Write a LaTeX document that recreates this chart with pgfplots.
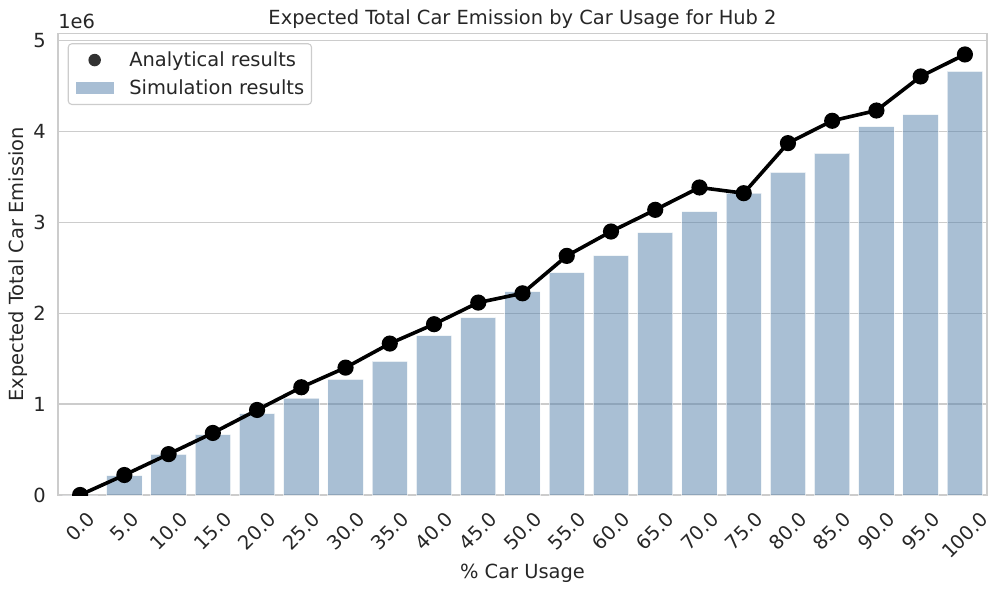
\documentclass[border=0pt]{standalone}
\usepackage{fontspec}
\setmainfont{DejaVu Sans}
\usepackage{graphicx}
\usepackage{pgfplots}
\pgfplotsset{compat=1.18}

\definecolor{barc}{HTML}{537FA9}
\definecolor{gridc}{HTML}{CCCCCC}
\definecolor{txt}{HTML}{262626}

\newcommand{\rl}[1]{\rotatebox{45}{#1}}
\newcommand{\fs}{\fontsize{14}{16.8}\selectfont}

% values in units of 1e6
\pgfplotstableread{
x sim ana
0 0.000 0.000
1 0.213 0.220
2 0.448 0.450
3 0.664 0.683
4 0.896 0.936
5 1.065 1.186
6 1.274 1.402
7 1.472 1.667
8 1.755 1.880
9 1.953 2.118
10 2.239 2.220
11 2.448 2.632
12 2.636 2.900
13 2.889 3.139
14 3.120 3.385
15 3.322 3.322
16 3.550 3.873
17 3.759 4.119
18 4.056 4.232
19 4.188 4.607
20 4.662 4.849
}\data

\begin{document}
\begin{tikzpicture}
\begin{axis}[
    at={(0pt,0pt)}, anchor=south west,
    scale only axis,
    width=668.9pt, height=332.3pt,
    xmin=-0.5, xmax=20.5,
    ymin=0, ymax=5.08,
    xtick={0,...,20},
    xticklabels={\rl{0.0},\rl{5.0},\rl{10.0},\rl{15.0},\rl{20.0},\rl{25.0},\rl{30.0},\rl{35.0},\rl{40.0},\rl{45.0},\rl{50.0},\rl{55.0},\rl{60.0},\rl{65.0},\rl{70.0},\rl{75.0},\rl{80.0},\rl{85.0},\rl{90.0},\rl{95.0},\rl{100.0}},
    ytick={0,1,2,3,4,5},
    /pgf/number format/assume math mode=true,
    major tick length=0pt,
    ymajorgrids,
    major grid style={draw=gridc, line width=1pt},
    axis line style={draw=gridc, line width=1pt},
    tick label style={font=\fs, text=txt},
    xticklabel style={anchor=north, inner sep=0pt, yshift=-10.8pt},
    yticklabel style={anchor=east, inner sep=0pt, xshift=-8.6pt},
    xlabel={\% Car Usage},
    ylabel={Expected Total Car Emission},
    xlabel style={at={(axis description cs:0.5,-0.169)}, anchor=center, font=\fs, text=txt},
    ylabel style={at={(axis description cs:-0.0431,0.5)}, anchor=center, font=\fs, text=txt},
    title={Expected Total Car Emission by Car Usage for Hub 2},
    every axis title shift=0pt,
    title style={at={(axis description cs:0.5,1.030)}, anchor=center, yshift=0pt, font=\fs, text=txt},
    clip marker paths=true,
    legend cell align=left,
    legend style={at={(axis description cs:0,1)}, anchor=north west,
        xshift=7pt, yshift=-7pt,
        draw=gridc, line width=0.8pt, rounded corners=2.5pt,
        fill=white, fill opacity=0.8, text opacity=1,
        inner xsep=5.3pt, inner ysep=5pt, row sep=6.7pt,
        font=\fs, text=txt,
        nodes={inner sep=0pt, text height=11.5pt, text depth=2pt},
        /tikz/every odd column/.append style={column sep=11.2pt}},
]
\addplot[ybar, bar width=0.8, fill=barc, fill opacity=0.5,
    draw=white, draw opacity=0.6, line width=0.7pt, forget plot]
    table[x=x, y=sim] {\data};
\addplot[black, line width=2.6pt, mark=*, mark size=4.5pt,
    mark options={solid, fill=black, draw=none}, forget plot]
    table[x=x, y=ana] {\data};

\addlegendimage{draw=none, legend image code/.code={
    \path[draw=none, rounded corners=0pt] (0pt,-4.3pt) rectangle (27.4pt,4.3pt);
    \fill[black, draw=none] (13.7pt,0pt) circle (4.5pt);}}
\addlegendentry{Analytical results}
\addlegendimage{draw=none, legend image code/.code={
    \fill[barc, fill opacity=0.5, draw=none, rounded corners=0pt] (0pt,-4.3pt) rectangle (27.4pt,4.3pt);}}
\addlegendentry{Simulation results}
\end{axis}
\node[anchor=base west, font=\fs, text=txt, inner sep=0pt]
    at (0pt,335.8pt) {1e6};
\pgfresetboundingbox
\path[use as bounding box] (-41.76pt,-69.84pt) rectangle (678.24pt,356.4pt);
\end{tikzpicture}
\end{document}
